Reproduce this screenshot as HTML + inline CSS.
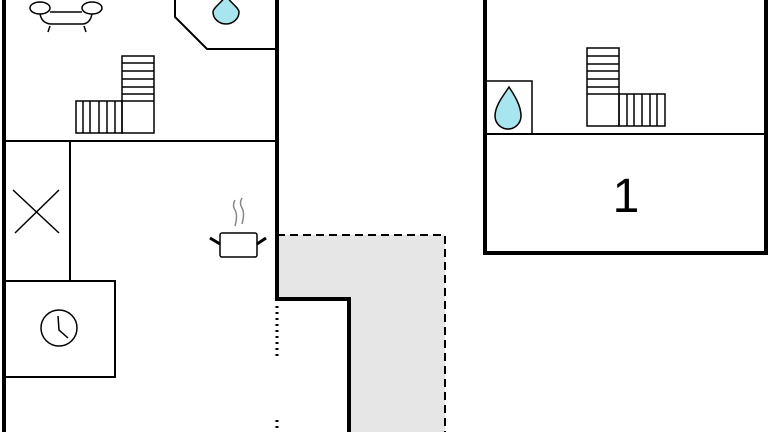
<!DOCTYPE html>
<html><head><style>html,body{margin:0;padding:0;background:#fff;overflow:hidden}svg{display:block}</style></head>
<body>
<svg width="768" height="432" viewBox="0 0 768 432" xmlns="http://www.w3.org/2000/svg" fill="none" stroke="#000">
<polygon points="277,235 445,235 445,432 349,432 349,299 277,299" fill="#e6e6e6" stroke="none"/>
<polyline points="277,235 445,235 445,432" stroke-width="2" stroke-dasharray="8,5"/>
<line x1="4" y1="0" x2="4" y2="432" stroke-width="4"/>
<polyline points="277,0 277,299 349,299 349,432" stroke-width="4"/>
<line x1="4" y1="141" x2="277" y2="141" stroke-width="2"/>
<line x1="277" y1="306" x2="277" y2="356" stroke-width="3" stroke-dasharray="2,4"/>
<line x1="277" y1="420" x2="277" y2="432" stroke-width="3" stroke-dasharray="2,4"/>
<polyline points="175,0 175,17 207,49 277,49" stroke-width="2"/>
<path d="M226,-4 C220,4 213,8 213,12 A13,12 0 0 0 239,12 C239,8 232,4 226,-4Z" fill="#a8e6ef" stroke-width="1.5"/>
<g stroke-width="1.5">
<ellipse cx="40" cy="8" rx="10" ry="6" fill="#fff"/>
<ellipse cx="92" cy="8" rx="10" ry="6" fill="#fff"/>
<path d="M40,14 Q42,24 52,24 L82,24 Q90,24 92,14"/>
<line x1="50" y1="12" x2="82" y2="12"/>
<line x1="50" y1="26" x2="48" y2="32"/><line x1="84" y1="26" x2="86" y2="32"/>
</g>
<g stroke-width="1.5">
<rect x="122" y="56" width="32" height="77"/>
<rect x="76" y="101" width="46" height="32"/>
<line x1="122" y1="63" x2="154" y2="63"/><line x1="122" y1="71" x2="154" y2="71"/>
<line x1="122" y1="79" x2="154" y2="79"/><line x1="122" y1="87" x2="154" y2="87"/>
<line x1="122" y1="94" x2="154" y2="94"/><line x1="122" y1="101" x2="154" y2="101"/>
<line x1="83" y1="101" x2="83" y2="133"/><line x1="90" y1="101" x2="90" y2="133"/>
<line x1="99" y1="101" x2="99" y2="133"/><line x1="107" y1="101" x2="107" y2="133"/>
<line x1="115" y1="101" x2="115" y2="133"/>
</g>
<line x1="70" y1="141" x2="70" y2="280" stroke-width="2"/>
<line x1="13" y1="190" x2="59" y2="233" stroke-width="1.5"/>
<line x1="59" y1="190" x2="15" y2="233" stroke-width="1.5"/>
<rect x="4" y="281" width="111" height="96" stroke-width="2"/>
<circle cx="59" cy="328" r="18" stroke-width="1.5"/>
<polyline points="58,316 59,330 68,338" stroke-width="1.5"/>
<g stroke-width="1.5">
<rect x="220" y="233" width="37" height="24" rx="2" fill="#fff"/>
<line x1="210" y1="238" x2="220" y2="244" stroke-width="3"/>
<line x1="257" y1="244" x2="266" y2="238" stroke-width="3"/>
<path d="M235,200 q-3,5 0,10 q3,5 0,16" stroke="#888"/>
<path d="M242,198 q-3,5 0,10 q3,5 0,16" stroke="#888"/>
</g>
<polyline points="485,0 485,253 766,253 766,0" stroke-width="4"/>
<line x1="485" y1="134" x2="766" y2="134" stroke-width="2"/>
<rect x="485" y="81" width="47" height="53" stroke-width="1.5"/>
<path d="M509,87 C503,96 495,106 495,116 A13,13 0 0 0 521,116 C521,106 515,96 509,87Z" fill="#a8e6ef" stroke-width="1.5"/>
<g stroke-width="1.5">
<rect x="587" y="48" width="32" height="78"/>
<rect x="619" y="94" width="46" height="32"/>
<line x1="587" y1="56" x2="619" y2="56"/><line x1="587" y1="64" x2="619" y2="64"/>
<line x1="587" y1="71" x2="619" y2="71"/><line x1="587" y1="79" x2="619" y2="79"/>
<line x1="587" y1="87" x2="619" y2="87"/><line x1="587" y1="94" x2="619" y2="94"/>
<line x1="627" y1="94" x2="627" y2="126"/><line x1="634" y1="94" x2="634" y2="126"/>
<line x1="642" y1="94" x2="642" y2="126"/><line x1="650" y1="94" x2="650" y2="126"/>
<line x1="657" y1="94" x2="657" y2="126"/>
</g>
<text x="626" y="212" font-family="Liberation Sans, sans-serif" font-size="48" fill="#000" stroke="none" text-anchor="middle">1</text>
</svg>
</body></html>
